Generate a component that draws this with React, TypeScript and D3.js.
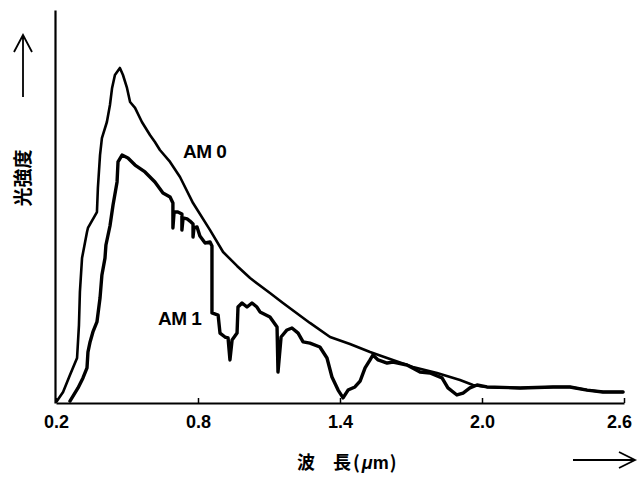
import React, { useEffect, useRef } from 'react';
import * as d3 from 'd3';

// wavelength (µm) / relative intensity
const wavelengthAM0 = [0.204, 0.230, 0.259, 0.289, 0.297, 0.301, 0.310, 0.331, 0.335, 0.373, 0.377, 0.386, 0.394, 0.415, 0.428, 0.437, 0.449, 0.470, 0.483, 0.500, 0.513, 0.534, 0.563, 0.597, 0.618, 0.639, 0.682, 0.724, 0.779, 0.851, 0.906, 0.965, 1.020, 1.104, 1.159, 1.273, 1.358, 1.442, 1.527, 1.599, 1.708, 1.810, 1.907, 1.962, 2.021, 2.161, 2.300, 2.372, 2.444, 2.511, 2.596];
const intensityAM0 = [0.012, 0.067, 0.171, 0.275, 0.476, 0.678, 0.885, 1.044, 1.069, 1.166, 1.313, 1.514, 1.618, 1.716, 1.820, 1.924, 2.003, 2.046, 2.003, 1.924, 1.838, 1.802, 1.716, 1.637, 1.594, 1.545, 1.472, 1.380, 1.221, 1.056, 0.922, 0.837, 0.763, 0.672, 0.611, 0.489, 0.403, 0.360, 0.311, 0.275, 0.220, 0.183, 0.140, 0.110, 0.098, 0.092, 0.098, 0.098, 0.079, 0.067, 0.067];

const wavelengthAM1 = [0.259, 0.293, 0.314, 0.331, 0.335, 0.344, 0.356, 0.373, 0.386, 0.394, 0.407, 0.411, 0.428, 0.441, 0.458, 0.462, 0.479, 0.504, 0.534, 0.576, 0.618, 0.652, 0.682, 0.694, 0.694, 0.699, 0.715, 0.732, 0.732, 0.737, 0.754, 0.766, 0.779, 0.779, 0.783, 0.796, 0.808, 0.830, 0.851, 0.859, 0.859, 0.885, 0.893, 0.914, 0.927, 0.935, 0.944, 0.965, 0.969, 0.986, 1.007, 1.028, 1.049, 1.062, 1.104, 1.134, 1.138, 1.151, 1.176, 1.197, 1.223, 1.244, 1.273, 1.315, 1.345, 1.366, 1.392, 1.413, 1.434, 1.463, 1.485, 1.506, 1.527, 1.539, 1.561, 1.599, 1.624, 1.683, 1.738, 1.780, 1.831, 1.856, 1.894, 1.920, 1.949, 1.979, 2.021, 2.161, 2.300, 2.372, 2.444, 2.511, 2.596];
const intensityAM1 = [0.012, 0.092, 0.153, 0.214, 0.311, 0.373, 0.434, 0.495, 0.641, 0.782, 0.885, 0.965, 1.081, 1.209, 1.350, 1.472, 1.514, 1.496, 1.453, 1.411, 1.350, 1.282, 1.258, 1.221, 1.069, 1.166, 1.166, 1.154, 1.056, 1.130, 1.124, 1.111, 1.093, 1.014, 1.069, 1.075, 1.020, 0.977, 0.983, 0.959, 0.550, 0.537, 0.427, 0.403, 0.397, 0.263, 0.385, 0.427, 0.586, 0.611, 0.586, 0.611, 0.586, 0.556, 0.525, 0.464, 0.189, 0.403, 0.446, 0.458, 0.427, 0.373, 0.366, 0.342, 0.275, 0.159, 0.079, 0.031, 0.079, 0.098, 0.134, 0.214, 0.263, 0.293, 0.263, 0.244, 0.250, 0.232, 0.189, 0.183, 0.153, 0.092, 0.049, 0.061, 0.092, 0.110, 0.098, 0.092, 0.098, 0.098, 0.079, 0.067, 0.067];

const xTicks = [0.2, 0.8, 1.4, 2.0, 2.6];
const xTickLabels = ['0.2', '0.8', '1.4', '2.0', '2.6'];

const App = () => {
    const ref = useRef<SVGSVGElement>(null);

    useEffect(() => {
        const svg = d3.select(ref.current);
        svg.selectAll('*').remove();

        const x = d3.scaleLinear().domain([0.2, 2.6]).range([56, 624]);
        const y = d3.scaleLinear().domain([0, 2.4]).range([403, 10]);

        const numFont = "'Liberation Sans', Arial, sans-serif";
        const jpFont = "'Noto Sans CJK JP', sans-serif";

        // x axis
        const gx = svg.append('g')
            .attr('transform', 'translate(0,403)')
            .call(d3.axisBottom(x)
                .tickValues(xTicks)
                .tickFormat((d, i) => xTickLabels[i])
                .tickSize(-5)
                .tickSizeOuter(0)
                .tickPadding(12));
        gx.select('.domain').attr('stroke-width', 2);
        gx.selectAll('.tick line').attr('stroke-width', 1.5);
        gx.selectAll('.tick text')
            .attr('font-family', numFont)
            .attr('font-size', 18)
            .attr('font-weight', 'bold')
            .attr('fill', '#000');
        gx.selectAll('.tick text').filter((d, i) => i === xTicks.length - 1).attr('dx', -5);

        // y axis, no ticks
        const gy = svg.append('g')
            .attr('transform', 'translate(55,0)')
            .call(d3.axisLeft(y).tickValues([]).tickSizeOuter(0));
        gy.select('.domain').attr('stroke-width', 2.2);

        const line = d3.line<number>()
            .x((d, i) => x(d))
            .curve(d3.curveLinear);

        svg.append('path')
            .attr('d', line.y((d, i) => y(intensityAM0[i]))(wavelengthAM0))
            .attr('fill', 'none')
            .attr('stroke', '#000')
            .attr('stroke-width', 2.6)
            .attr('stroke-linejoin', 'round')
            .attr('stroke-linecap', 'round');

        svg.append('path')
            .attr('d', line.y((d, i) => y(intensityAM1[i]))(wavelengthAM1))
            .attr('fill', 'none')
            .attr('stroke', '#000')
            .attr('stroke-width', 3.4)
            .attr('stroke-linejoin', 'round')
            .attr('stroke-linecap', 'round');

        // series labels
        svg.append('text')
            .attr('x', 183).attr('y', 158)
            .attr('font-family', numFont).attr('font-size', 19).attr('font-weight', 'bold')
            .attr('letter-spacing', -0.5)
            .text('AM 0');
        svg.append('text')
            .attr('x', 158).attr('y', 325)
            .attr('font-family', numFont).attr('font-size', 19).attr('font-weight', 'bold')
            .attr('letter-spacing', -0.5)
            .text('AM 1');

        // y label + arrow
        svg.append('text')
            .attr('transform', 'translate(30,178) rotate(-90)')
            .attr('text-anchor', 'middle')
            .attr('font-family', jpFont).attr('font-size', 19).attr('font-weight', 'bold')
            .text('光強度');
        svg.append('path')
            .attr('d', 'M23,97 L23,35 M14,52 L23,35 L32,52')
            .attr('fill', 'none').attr('stroke', '#000').attr('stroke-width', 1.8);

        // x label + arrow
        const xl = svg.append('text')
            .attr('x', 297).attr('y', 469)
            .attr('font-family', jpFont).attr('font-size', 18).attr('font-weight', 'bold');
        xl.append('tspan').text('波　長');
        xl.append('tspan').attr('dx', 2).text('(');
        xl.append('tspan').attr('font-style', 'italic').attr('font-family', numFont).attr('dx', 2).text('μ');
        xl.append('tspan').attr('font-family', numFont).text('m');
        xl.append('tspan').attr('dx', 1).text(')');
        svg.append('path')
            .attr('d', 'M573,460 L635,460 M619,452 L635,460 L619,468')
            .attr('fill', 'none').attr('stroke', '#000').attr('stroke-width', 1.8);
    }, []);

    return (
        <svg ref={ref} width={639} height={477}
            style={{ position: 'absolute', left: 0, top: 0, background: '#fff' }} />
    );
};

export default App;
